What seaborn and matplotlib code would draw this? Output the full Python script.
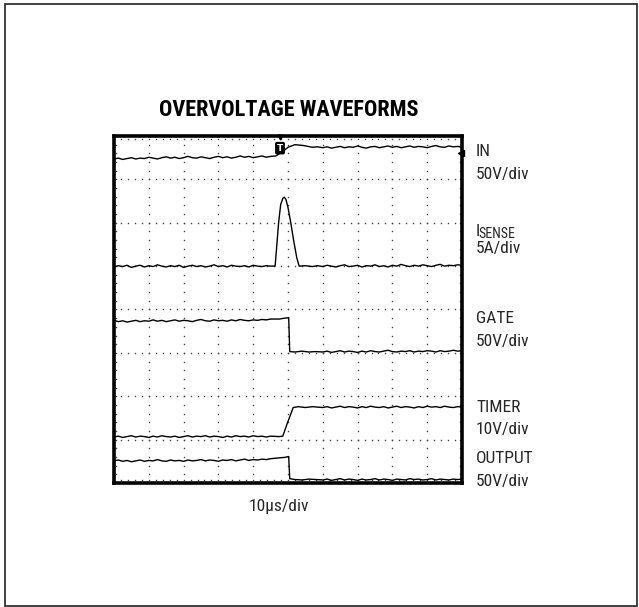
import numpy as np
import pandas as pd
import matplotlib
matplotlib.use("Agg")
import matplotlib.pyplot as plt
import seaborn as sns
from matplotlib import font_manager as fm
from matplotlib.patches import Rectangle

# ---------------- data (time in µs, level in screen divisions) ----------------
SAMPLE_STEP = 1.25  # µs between readings on the flat parts

# IN
in_pre = [7.47, 7.49, 7.46, 7.48, 7.50, 7.47, 7.49, 7.48, 7.51, 7.49, 7.47, 7.50, 7.52, 7.49,
          7.51, 7.48, 7.50, 7.53, 7.50, 7.49, 7.52, 7.50, 7.48, 7.51, 7.53, 7.50, 7.52, 7.49,
          7.51, 7.54, 7.51, 7.53, 7.50, 7.52, 7.54, 7.51, 7.53]
in_edge_t = [46.5, 48.5, 50, 52, 54.5, 57, 58.5]
in_edge_v = [7.54, 7.64, 7.74, 7.80, 7.78, 7.74, 7.75]
in_post = [7.73, 7.75, 7.72, 7.74, 7.76, 7.73, 7.75, 7.74, 7.77, 7.74, 7.72, 7.75, 7.76, 7.73,
           7.75, 7.77, 7.74, 7.76, 7.73, 7.75, 7.77, 7.74, 7.76, 7.75, 7.73, 7.76, 7.78, 7.75,
           7.74, 7.77, 7.75, 7.76, 7.74]

# ISENSE
isense_pre = [4.98, 5.01, 4.99, 5.02, 4.97, 5.00, 5.02, 4.98, 5.01, 4.99, 5.03, 5.00, 4.98,
              5.01, 4.99, 5.02, 4.97, 5.00, 5.02, 4.99, 5.01, 4.98, 5.00, 5.03, 4.99, 5.01,
              4.98, 5.02, 5.00, 4.99, 5.01, 4.98, 5.02, 5.00, 4.99, 5.01, 5.00]
isense_edge_t = [46.3, 46.8, 47.3, 47.9, 48.5, 48.9, 49.4, 50.0, 50.8, 51.6, 52.5, 53.2, 55,
                 57, 58.5]
isense_edge_v = [5.00, 5.50, 6.00, 6.42, 6.56, 6.59, 6.54, 6.35, 6.00, 5.60, 5.20, 5.00, 5.01,
                 4.99, 5.01]
isense_post = [4.99, 5.02, 5.00, 4.98, 5.01, 5.03, 4.99, 5.00, 5.02, 4.98, 5.01, 5.00, 5.03,
               4.99, 5.01, 4.98, 5.02, 5.00, 5.04, 5.01, 4.99, 5.02, 5.00, 5.03, 5.01, 4.99,
               5.02, 5.04, 5.00, 5.02, 5.01, 5.03, 5.02]

# GATE
gate_pre = [3.75, 3.72, 3.74, 3.71, 3.73, 3.75, 3.72, 3.74, 3.73, 3.76, 3.73, 3.75, 3.72, 3.74,
            3.76, 3.73, 3.75, 3.74, 3.72, 3.75, 3.77, 3.74, 3.73, 3.76, 3.74, 3.75, 3.73, 3.76,
            3.74, 3.77, 3.75, 3.74, 3.76, 3.75, 3.77, 3.76, 3.78]
gate_edge_t = [47.5, 49, 50.2, 50.5, 52, 54, 56, 58]
gate_edge_v = [3.78, 3.80, 3.81, 3.03, 3.02, 3.04, 3.02, 3.03]
gate_post = [3.02, 3.04, 3.01, 3.03, 3.05, 3.02, 3.04, 3.03, 3.01, 3.04, 3.02, 3.05, 3.03,
             3.02, 3.04, 3.06, 3.03, 3.02, 3.04, 3.03, 3.05, 3.02, 3.04, 3.03, 3.05, 3.04,
             3.02, 3.05, 3.03, 3.04, 3.06, 3.04, 3.05]

# TIMER
timer_pre = [1.06, 1.08, 1.05, 1.07, 1.09, 1.06, 1.08, 1.07, 1.05, 1.08, 1.06, 1.09, 1.07,
             1.06, 1.08, 1.05, 1.07, 1.09, 1.06, 1.08, 1.07, 1.09, 1.06, 1.08, 1.07, 1.05,
             1.08, 1.06, 1.09, 1.07, 1.08, 1.06, 1.09, 1.07, 1.08, 1.06, 1.08]
timer_edge_t = [47.5, 48.5, 50, 51.5, 53, 55, 57, 58.5]
timer_edge_v = [1.07, 1.08, 1.42, 1.74, 1.76, 1.74, 1.76, 1.75]
timer_post = [1.74, 1.76, 1.73, 1.75, 1.77, 1.74, 1.76, 1.75, 1.73, 1.76, 1.74, 1.77, 1.75,
              1.74, 1.76, 1.73, 1.75, 1.77, 1.74, 1.76, 1.75, 1.73, 1.76, 1.74, 1.77, 1.75,
              1.76, 1.74, 1.77, 1.75, 1.74, 1.76, 1.75]

# OUTPUT
output_pre = [0.51, 0.53, 0.50, 0.52, 0.49, 0.51, 0.53, 0.50, 0.52, 0.51, 0.54, 0.51, 0.50,
              0.53, 0.51, 0.52, 0.50, 0.53, 0.51, 0.52, 0.54, 0.51, 0.53, 0.52, 0.50, 0.53,
              0.52, 0.54, 0.51, 0.53, 0.55, 0.52, 0.54, 0.53, 0.55, 0.54, 0.56]
output_edge_t = [47.5, 49, 50.2, 50.5, 52, 54, 56, 58]
output_edge_v = [0.58, 0.59, 0.61, 0.10, 0.08, 0.07, 0.09, 0.08]
output_post = [0.07, 0.09, 0.06, 0.08, 0.10, 0.07, 0.09, 0.08, 0.06, 0.09, 0.07, 0.08, 0.10,
               0.07, 0.09, 0.08, 0.06, 0.09, 0.08, 0.07, 0.10, 0.08, 0.09, 0.07, 0.08, 0.10,
               0.07, 0.09, 0.08, 0.07, 0.09, 0.08, 0.09]

trace_names = ["IN", "ISENSE", "GATE", "TIMER", "OUTPUT"]
trace_scales = ["50V/div", "5A/div", "50V/div", "10V/div", "50V/div"]
title_text = "OVERVOLTAGE WAVEFORMS"
time_label = "10\u00b5s/div"
T_END = 100.0


def build(pre, edge_t, edge_v, post):
    t_pre = [i * SAMPLE_STEP for i in range(len(pre))]
    t_post = [T_END - SAMPLE_STEP * (len(post) - 1 - i) for i in range(len(post))]
    return t_pre + list(edge_t) + t_post, list(pre) + list(edge_v) + list(post)


traces = {
    "IN": build(in_pre, in_edge_t, in_edge_v, in_post),
    "ISENSE": build(isense_pre, isense_edge_t, isense_edge_v, isense_post),
    "GATE": build(gate_pre, gate_edge_t, gate_edge_v, gate_post),
    "TIMER": build(timer_pre, timer_edge_t, timer_edge_v, timer_post),
    "OUTPUT": build(output_pre, output_edge_t, output_edge_v, output_post),
}

# ---------------- fonts ----------------
names = {f.name for f in fm.fontManager.ttflist}
narrow = next((n for n in ["Liberation Sans Narrow", "Roboto Condensed", "Open Sans Condensed"]
               if n in names), None)
if narrow is None:
    narrow = "DejaVu Sans"
    stretch = "condensed"
else:
    stretch = "normal"

sns.set_style("white")
plt.rcParams["font.family"] = [narrow, "DejaVu Sans"]

W, H = 639, 607
fig = plt.figure(figsize=(W / 100, H / 100), dpi=100)


def fx(px):
    return px / W


def fy(py):
    return 1 - py / H


# axes box in pixels: x 114..462, y 136..483
ax = fig.add_axes([fx(114), fy(483), fx(462) - fx(114), fy(136) - fy(483)])
ax.set_xlim(0, 100)
ax.set_ylim(0, 8)

# ---------------- graticule dots ----------------
gx, gy = [], []
for k in range(1, 10):
    for j in range(41):
        gx.append(k * 10); gy.append(j * 0.2)
for k in range(1, 8):
    for j in range(51):
        gx.append(j * 2); gy.append(k)
for j in range(51):
    gx += [j * 2, j * 2]; gy += [7.93, 0.07]
for j in range(41):
    gx += [0.7, 99.3]; gy += [j * 0.2, j * 0.2]
ax.plot(gx, gy, ls="none", marker="s", ms=1.0, mew=0, color="#444444", zorder=1)

# ---------------- traces ----------------
frames = []
for nm in trace_names:
    t, v = traces[nm]
    frames.append(pd.DataFrame({"t": t, "v": v, "trace": nm}))
df = pd.concat(frames, ignore_index=True)
sns.lineplot(data=df, x="t", y="v", units="trace", estimator=None, sort=False,
             color="black", lw=1.0, ax=ax, zorder=3)

# trigger markers
ax.plot([47.7], [7.97], marker="v", ms=3.5, color="black", clip_on=False, zorder=5)
ax.text(47.7, 7.72, "T", color="white", fontsize=6.5, fontweight="bold", ha="center",
        va="center", zorder=6, family="DejaVu Sans",
        bbox=dict(boxstyle="round,pad=0.12", fc="black", ec="black"))
ax.plot([99.6], [7.6], marker="<", ms=4, color="black", clip_on=False, zorder=5)

ax.set_xticks([]); ax.set_yticks([])
ax.set_xlabel(""); ax.set_ylabel("")
for s in ax.spines.values():
    s.set_visible(True)
    s.set_linewidth(2.6)
    s.set_color("black")

# ---------------- texts ----------------
fig.text(fx(289), fy(116), title_text, ha="center", va="baseline", fontsize=16,
         fontweight="black", fontstretch=stretch, color="black")

lab_fs = 12.5
lab_x = fx(476)
name_base = [156, 236, 323, 412, 463]
scale_base = [179, 253, 346, 434, 486]
for nm, sc, yb, ys in zip(trace_names, trace_scales, name_base, scale_base):
    if nm == "ISENSE":
        t_i = fig.text(lab_x, fy(yb), "I", ha="left", va="baseline", fontsize=lab_fs,
                       fontstretch=stretch)
        fig.canvas.draw()
        bb = t_i.get_window_extent()
        fig.text(bb.x1 / W - 0.0025, fy(yb + 1.5), "SENSE", ha="left", va="baseline",
                 fontsize=lab_fs * 0.8, fontstretch=stretch)
    else:
        fig.text(lab_x, fy(yb), nm, ha="left", va="baseline", fontsize=lab_fs,
                 fontstretch=stretch)
    fig.text(lab_x, fy(ys), sc, ha="left", va="baseline", fontsize=lab_fs, fontstretch=stretch)

fig.text(fx(249), fy(511), time_label, ha="left", va="baseline", fontsize=12.5,
         fontstretch=stretch)

# outer frame
fig.patches.append(Rectangle((fx(5), fy(606)), fx(637) - fx(5), fy(4) - fy(606),
                             transform=fig.transFigure, fill=False, ec="#333333", lw=1.3))

fig.savefig("out.png", dpi=100)
